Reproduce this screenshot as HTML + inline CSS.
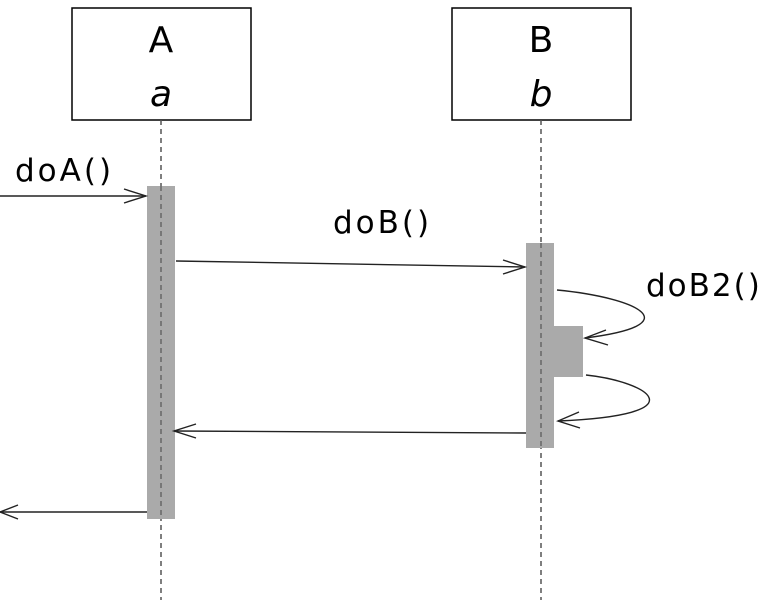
<!DOCTYPE html>
<html><head><style>body{margin:0;background:#fff}</style></head><body>
<svg width="770" height="600" viewBox="0 0 770 600" xmlns="http://www.w3.org/2000/svg" font-family="'DejaVu Sans', 'Liberation Sans', sans-serif">
<rect x="72" y="8" width="179" height="112" fill="#fff" stroke="#000" stroke-width="1.5"/>
<rect x="452" y="8" width="179" height="112" fill="#fff" stroke="#000" stroke-width="1.5"/>
<text x="161" y="52" font-size="36" text-anchor="middle">A</text>
<text x="161" y="106" font-size="36" text-anchor="middle" font-style="italic">a</text>
<text x="541" y="52" font-size="36" text-anchor="middle">B</text>
<text x="541" y="106" font-size="36" text-anchor="middle" font-style="italic">b</text>
<line x1="161" y1="120" x2="161" y2="600" stroke="#555" stroke-width="1.5" stroke-dasharray="5,4"/>
<line x1="541" y1="120" x2="541" y2="600" stroke="#555" stroke-width="1.5" stroke-dasharray="5,4"/>
<rect x="147" y="186" width="28" height="333" fill="#aaa"/>
<rect x="526" y="243" width="28" height="205" fill="#aaa"/>
<rect x="554" y="326" width="29" height="51" fill="#aaa"/>
<line x1="161" y1="186" x2="161" y2="519" stroke="#666" stroke-width="1.5" stroke-dasharray="5,4"/>
<line x1="541" y1="243" x2="541" y2="448" stroke="#666" stroke-width="1.5" stroke-dasharray="5,4"/>
<g fill="none" stroke="#222" stroke-width="1.4">
<line x1="0" y1="196" x2="146" y2="196"/><polyline points="124,189 146,196 124,203"/>
<line x1="176" y1="261" x2="525" y2="267"/><polyline points="503,260 525,267 503,274"/>
<line x1="526" y1="433" x2="174" y2="431"/><polyline points="196,424 174,431 196,438"/>
<line x1="147" y1="512" x2="0" y2="512"/><polyline points="18,505 0,512 18,519"/>
<path d="M557,290 C640,298 690,325 585,338"/><polyline points="606,330 585,338 608,345"/>
<path d="M586,375 C650,382 700,415 558,421"/><polyline points="579,412 558,421 580,428"/>
</g>
<text x="15" y="181" font-size="31" letter-spacing="3">doA()</text>
<text x="333" y="233" font-size="31" letter-spacing="3">doB()</text>
<text x="646" y="296" font-size="31" letter-spacing="2">doB2()</text>
</svg>
</body></html>
